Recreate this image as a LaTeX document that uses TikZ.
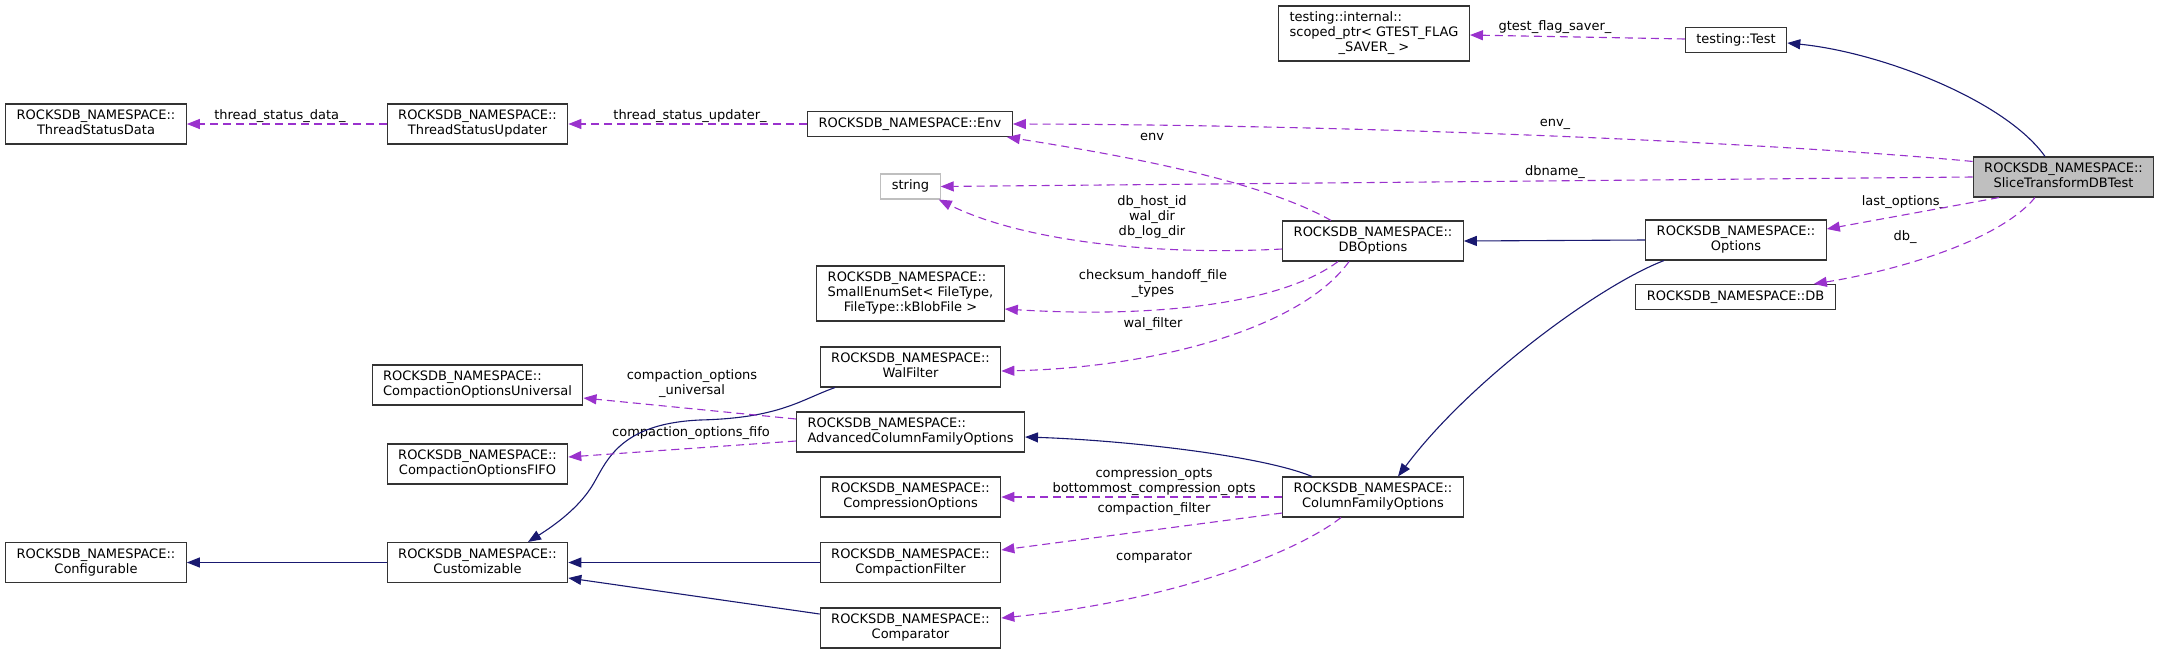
\documentclass[tikz,border=0pt]{standalone}
\usepackage{fontspec}
\setmainfont{DejaVu Sans}
\usetikzlibrary{arrows.meta}
\definecolor{membercol}{HTML}{9A32CD}
\definecolor{inheritcol}{HTML}{191970}
\definecolor{boxline}{HTML}{333333}
\definecolor{boxgray}{HTML}{BFBFBF}
\newcommand{\cname}[2]{\begin{tabular}{@{}l@{}}#1\\\multicolumn{1}{@{}c@{}}{#2}\end{tabular}}
\newcommand{\nsname}[1]{\cname{ROCKSDB\_NAMESPACE::}{#1}}
\newcommand{\oneline}[1]{\begin{tabular}{@{}c@{}}#1\end{tabular}}
\begin{document}
\begin{tikzpicture}[x=1pt, y=-1pt,
		cls/.style={draw=boxline, line width=1.1pt, fill=white, rectangle, inner xsep=11pt, inner ysep=5pt, font=\fontsize{13}{15}\selectfont},
		lab/.style={inner sep=0pt, align=center, font=\fontsize{13}{15}\selectfont},
		member/.style={-{Triangle[length=13pt,width=10pt]}, membercol, line width=1.1pt, dash pattern=on 8pt off 5pt},
		inherit/.style={-{Triangle[length=13pt,width=10pt]}, inheritcol, line width=1.1pt},
	]
	\useasboundingbox (0,0) rectangle (2163,654);

	% classes
	\node[cls] (tsdata)   at (96, 124)    {\nsname{ThreadStatusData}};
	\node[cls] (tsupd)    at (477.5, 124) {\nsname{ThreadStatusUpdater}};
	\node[cls] (env)      at (910, 124)   {\oneline{ROCKSDB\_NAMESPACE::Env}};
	\node[cls] (gtest)    at (1374, 33.5) {\begin{tabular}{@{}l@{}}testing::internal::\\scoped\_ptr< GTEST\_FLAG\\\multicolumn{1}{@{}c@{}}{\_SAVER\_ >}\end{tabular}};
	\node[cls] (test)     at (1736, 40)   {\oneline{testing::Test}};
	\node[cls, fill=boxgray] (slice) at (2063.5, 177) {\nsname{SliceTransformDBTest}};
	\node[cls, draw=boxgray] (str) at (910.5, 186.5) {\oneline{string}};
	\node[cls] (dbopt)    at (1373, 241)  {\nsname{DBOptions}};
	\node[cls] (opts)     at (1736, 240)  {\nsname{Options}};
	\node[cls] (db)       at (1735.5, 297) {\oneline{ROCKSDB\_NAMESPACE::DB}};
	\node[cls] (enumset)  at (910.5, 293.5) {\begin{tabular}{@{}l@{}}ROCKSDB\_NAMESPACE::\\SmallEnumSet< FileType,\\\multicolumn{1}{@{}c@{}}{FileType::kBlobFile >}\end{tabular}};
	\node[cls] (walf)     at (910.5, 367) {\nsname{WalFilter}};
	\node[cls] (univ)     at (477.5, 385) {\nsname{CompactionOptionsUniversal}};
	\node[cls] (advcfo)   at (910.5, 432) {\nsname{AdvancedColumnFamilyOptions}};
	\node[cls] (fifo)     at (477.5, 464) {\nsname{CompactionOptionsFIFO}};
	\node[cls] (compr)    at (910.5, 497) {\nsname{CompressionOptions}};
	\node[cls] (cfo)      at (1373, 497)  {\nsname{ColumnFamilyOptions}};
	\node[cls] (config)   at (96, 562.5)  {\nsname{Configurable}};
	\node[cls] (custom)   at (477.5, 562.5) {\nsname{Customizable}};
	\node[cls] (cfilter)  at (910.5, 562.5) {\nsname{CompactionFilter}};
	\node[cls] (cmp)      at (910.5, 628) {\nsname{Comparator}};

	% member labels
	\node[lab] (l-tsdata)  at (280, 116)  {thread\_status\_data\_};
	\node[lab] (l-tsupd)   at (690, 116)  {thread\_status\_updater\_};
	\node[lab] (l-gtest)   at (1555, 27)  {gtest\_flag\_saver\_};
	\node[lab] (l-envu)    at (1555, 124) {env\_};
	\node[lab] (l-dbname)  at (1555, 172) {dbname\_};
	\node[lab] (l-lastopt) at (1904, 202) {last\_options\_};
	\node[lab] (l-db)      at (1905, 237) {db\_};
	\node[lab] (l-env)     at (1152, 137) {env};
	\node[lab] (l-dirs)    at (1152, 217) {db\_host\_id\\wal\_dir\\db\_log\_dir};
	\node[lab] (l-cksum)   at (1153, 284) {checksum\_handoff\_file\\\_types};
	\node[lab] (l-walf)    at (1153, 324) {wal\_filter};
	\node[lab] (l-univ)    at (692, 384)  {compaction\_options\\\_universal};
	\node[lab] (l-fifo)    at (691, 433)  {compaction\_options\_fifo};
	\node[lab] (l-compr)   at (1154, 482) {compression\_opts\\bottommost\_compression\_opts};
	\node[lab] (l-cfilter) at (1154, 509) {compaction\_filter};
	\node[lab] (l-cmp)     at (1154, 557) {comparator};

	% inheritance
	\draw[inherit] ([xshift=-18.5pt]slice.north) .. controls (2005,100) and (1880,52) .. ([yshift=-3pt]test.east);
	\draw[inherit] (opts.west) -- (dbopt.east);
	\draw[inherit] ([xshift=-72pt]opts.south) .. controls (1600,285) and (1470,380) .. ([xshift=25pt]cfo.north);
	\draw[inherit] ([xshift=-61pt]cfo.north) .. controls (1260,455) and (1120,440) .. ([yshift=-5pt]advcfo.east);
	\draw[inherit] ([xshift=-75.5pt]walf.south) .. controls (800,400) and (780,418) .. (700,420)
		.. controls (610,424) and (605,470) .. (588,492) .. controls (575,510) and (555,525) .. ([xshift=50.5pt]custom.north);
	\draw[inherit] (custom.west) -- (config.east);
	\draw[inherit] (cfilter.west) -- (custom.east);
	\draw[inherit] ([yshift=14pt]cmp.west) -- ([yshift=-15.5pt]custom.east);

	% members
	\draw[member] (tsupd.west) -- (tsdata.east);
	\draw[member] (env.west) -- (tsupd.east);
	\draw[member] ([yshift=1pt]test.west) -- ([yshift=-1.5pt]gtest.east);
	\draw[member] ([yshift=-5pt]slice.north west) .. controls (1800,145) and (1400,125) .. (env.east);
	\draw[member] (slice.west) -- (str.east);
	\draw[member] ([xshift=-64.5pt]slice.south) -- ([yshift=11pt]opts.east);
	\draw[member] ([xshift=-28.5pt]slice.south) .. controls (2000,240) and (1900,270) .. ([xshift=-22pt]db.north east);
	\draw[member] ([xshift=-42pt]dbopt.north) .. controls (1260,180) and (1120,155) .. ([xshift=-6pt]env.south east);
	\draw[member] ([yshift=-8pt]dbopt.west) .. controls (1150,256) and (1020,240) .. ([xshift=-2pt]str.south east);
	\draw[member] ([xshift=-35pt]dbopt.south) .. controls (1280,305) and (1150,318) .. ([yshift=-15.5pt]enumset.east);
	\draw[member] ([xshift=-24pt]dbopt.south) .. controls (1300,330) and (1150,368) .. ([yshift=-4pt]walf.east);
	\draw[member] ([yshift=13pt]advcfo.west) -- ([yshift=-13pt]univ.east);
	\draw[member] ([yshift=-9pt]advcfo.west) -- ([yshift=7pt]fifo.east);
	\draw[member] (cfo.west) -- (compr.east);
	\draw[member] ([yshift=-16pt]cfo.west) -- ([yshift=12.5pt]cfilter.east);
	\draw[member] ([xshift=-32pt]cfo.south) .. controls (1300,550) and (1180,600) .. ([yshift=10pt]cmp.east);
\end{tikzpicture}
\end{document}
